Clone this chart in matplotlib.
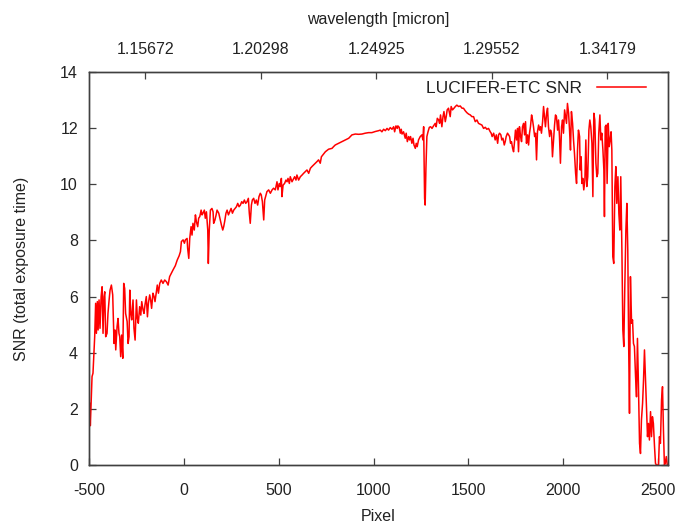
import matplotlib
matplotlib.use("Agg")
import matplotlib.pyplot as plt

plt.rcParams['font.family'] = ['Liberation Sans', 'DejaVu Sans']
plt.rcParams['axes.unicode_minus'] = False

# Detector pixel and signal-to-noise ratio along the spectrum
pixel = [
    -498, -495, -493, -490, -484, -479, -475, -470, -465, -461,
    -456, -452, -447, -442, -436, -431, -426, -421, -417, -412,
    -405, -400, -394, -389, -382, -375, -368, -363, -359, -352,
    -347, -342, -338, -333, -328, -322, -317, -312, -307, -299,
    -294, -289, -285, -280, -275, -268, -263, -257, -250, -245,
    -240, -233, -227, -222, -215, -210, -205, -198, -192, -187,
    -180, -175, -170, -163, -157, -152, -145, -140, -134, -127,
    -119, -110, -101, -92, -83, -75, -66, -57, -45, -35,
    -25,
    -18, -13, -4, 3, 8, 17, 20, 26, 31, 38,
    43, 48, 55, 61, 66, 73, 78, 84, 91, 96,
    101, 108, 113, 119, 126, 129, 134, 140, 148, 154,
    157, 164, 170, 175, 184, 192, 198, 205, 210, 215,
    222, 228, 235, 242, 249, 256, 263, 270, 277, 284,
    291, 298, 305, 312, 319, 326, 333, 340, 345, 350,
    356, 361, 368, 375, 382, 389, 396, 403, 408, 414,
    421, 426, 431, 438, 447, 456, 465, 473,
    482, 491, 496, 503, 508, 514, 517, 523, 531, 538,
    544, 549, 556, 561, 570, 579, 584, 591, 596, 605,
    614, 623, 631, 640, 649, 658, 667, 675, 684, 693,
    702, 710, 719, 725, 732, 746, 763, 781, 789, 798,
    816, 833, 851, 869, 886, 904, 921, 939, 956, 974,
    991, 1009,
    1027, 1035, 1044, 1053, 1062, 1071, 1079, 1088, 1097, 1106,
    1111, 1118, 1125, 1128, 1135, 1141, 1146, 1150, 1158, 1167,
    1172, 1178, 1185, 1190, 1195, 1202, 1208, 1213, 1220, 1225,
    1230, 1237, 1246, 1255, 1260, 1264, 1269, 1272, 1276, 1281,
    1287, 1294, 1301, 1308, 1316, 1325, 1330, 1336, 1343, 1348,
    1353, 1360, 1366, 1371, 1378, 1383, 1388, 1395, 1404, 1409,
    1416, 1424, 1431, 1439, 1448, 1457, 1466, 1474, 1483, 1492,
    1501, 1510, 1518, 1527, 1536, 1545, 1553, 1562,
    1571, 1580, 1589, 1597, 1606, 1615, 1620, 1625, 1633, 1641,
    1647, 1654, 1659, 1664, 1671, 1676, 1682, 1689, 1694, 1699,
    1706, 1712, 1717, 1722, 1727, 1733, 1738, 1743, 1748, 1754,
    1759, 1764, 1769, 1775, 1780, 1785, 1791, 1796, 1801, 1806,
    1812, 1817, 1822, 1827, 1833, 1838, 1843, 1849, 1854, 1859,
    1864, 1870, 1875, 1880, 1885, 1891, 1896, 1901, 1906, 1912,
    1917, 1922, 1928, 1933, 1938, 1943, 1949, 1954, 1959, 1964,
    1970, 1975, 1980, 1985, 1991, 1996, 2001, 2007, 2012, 2017,
    2022, 2028, 2033, 2038, 2043, 2049, 2054, 2059, 2065, 2070,
    2075, 2080, 2086,
    2089, 2094, 2098, 2103, 2108, 2114, 2119, 2124, 2129, 2135,
    2140, 2145, 2151, 2156, 2161, 2166, 2172, 2177, 2182, 2187,
    2193, 2198, 2203, 2209, 2214, 2217, 2221, 2226, 2231, 2237,
    2242, 2247, 2252, 2256, 2261, 2266, 2272, 2277, 2282, 2288,
    2293, 2298, 2303, 2309, 2314, 2319, 2324, 2330, 2335, 2340,
    2345, 2349, 2354, 2360, 2365, 2370, 2375, 2381, 2386, 2391,
    2396, 2402, 2407, 2412, 2418, 2423, 2428, 2433, 2439, 2444,
    2449, 2454, 2460, 2465, 2470, 2475, 2481, 2486, 2491, 2497,
    2502, 2507, 2512, 2518, 2523, 2528, 2533, 2537, 2543, 2548,
]

snr = [
    1.60, 2.20, 1.40, 2.00, 3.15, 3.27, 3.86, 4.57, 5.76, 4.69,
    5.82, 4.81, 5.88, 4.87, 6.00, 6.35, 4.69, 6.00, 6.17, 4.57,
    4.69, 5.40, 5.88, 6.23, 6.41, 6.06, 4.33, 4.81, 4.10, 4.93,
    5.22, 4.69, 4.57, 3.86, 4.63, 3.80, 6.47, 6.29, 5.40, 5.11,
    4.33, 4.57, 6.23, 5.40, 5.17, 5.88, 4.87, 4.45, 5.88, 5.22,
    5.05, 5.64, 5.34, 5.82, 5.52, 5.40, 5.70, 6.00, 5.28, 5.76,
    6.06, 5.88, 5.58, 6.12, 6.00, 5.82, 6.17, 6.41, 6.12, 6.47,
    6.59, 6.47, 6.59, 6.53, 6.41, 6.71, 6.83, 6.95, 7.10, 7.30,
    7.45,
    7.60, 7.96, 8.02, 7.90, 8.02, 8.07, 7.72, 7.36, 8.07, 8.49,
    8.19, 8.61, 8.37, 8.91, 8.67, 8.49, 8.79, 8.85, 9.08, 8.91,
    8.97, 9.08, 8.79, 9.02, 8.37, 7.18, 8.37, 9.08, 9.14, 9.02,
    8.61, 8.73, 8.91, 9.08, 8.97, 8.73, 8.55, 8.37, 8.49, 8.67,
    8.97, 9.08, 8.91, 9.02, 9.14, 8.97, 9.08, 9.14, 9.20, 9.32,
    9.20, 9.26, 9.38, 9.32, 9.44, 9.32, 9.38, 9.50, 8.97, 8.61,
    9.26, 9.44, 9.50, 9.32, 9.44, 9.26, 9.56, 9.68, 9.62, 9.38,
    8.73, 9.44, 9.56, 9.74, 9.80, 9.68, 9.80, 9.86,
    9.80, 10.09, 9.80, 10.03, 9.92, 10.21, 9.56, 9.97, 10.03, 10.15,
    10.09, 10.21, 10.03, 10.27, 10.09, 10.21, 10.27, 10.15, 10.33, 10.15,
    10.27, 10.33, 10.39, 10.45, 10.51, 10.39, 10.57, 10.63, 10.69, 10.75,
    10.81, 10.87, 10.75, 10.98, 11.04, 11.16, 11.25, 11.28, 11.34, 11.40,
    11.46, 11.52, 11.58, 11.64, 11.76, 11.79, 11.78, 11.79, 11.82, 11.84,
    11.84, 11.88,
    11.91, 11.93, 11.87, 11.96, 11.91, 11.99, 11.93, 12.02, 11.96, 12.05,
    11.87, 12.08, 11.99, 12.08, 12.03, 11.82, 11.96, 11.79, 11.87, 11.64,
    11.82, 11.52, 11.70, 11.58, 11.70, 11.46, 11.64, 11.40, 11.28, 11.46,
    11.34, 11.58, 11.70, 11.76, 11.58, 12.05, 9.50, 9.26, 10.57, 11.70,
    11.87, 12.03, 12.05, 11.99, 12.08, 12.17, 12.05, 12.35, 12.29, 12.17,
    12.47, 12.05, 12.41, 12.59, 12.23, 12.41, 12.65, 12.71, 12.41, 12.77,
    12.65, 12.71, 12.77, 12.82, 12.77, 12.79, 12.71, 12.71, 12.62, 12.55,
    12.50, 12.47, 12.41, 12.41, 12.23, 12.29, 12.17, 12.14,
    12.11, 11.99, 12.03, 11.96, 11.99, 11.87, 11.82, 11.70, 11.82, 11.58,
    11.76, 11.46, 11.76, 11.82, 11.76, 11.58, 11.64, 11.40, 11.52, 11.70,
    11.82, 11.76, 11.70, 11.46, 11.52, 11.28, 11.16, 11.52, 11.93, 11.58,
    11.99, 11.16, 12.05, 11.70, 11.52, 12.05, 12.17, 11.76, 12.23, 11.46,
    11.76, 11.40, 11.82, 12.05, 12.47, 12.29, 12.05, 11.70, 11.82, 10.87,
    11.87, 12.11, 11.93, 12.05, 11.82, 12.23, 12.77, 12.41, 12.05, 12.53,
    12.71, 12.05, 11.70, 11.93, 11.82, 10.98, 11.58, 12.11, 12.47, 12.41,
    11.93, 12.29, 11.70, 10.75, 12.05, 12.29, 11.82, 12.65, 12.41, 12.17,
    12.88, 12.53, 11.93, 11.22, 12.59, 12.17, 11.58, 11.10, 10.39, 10.03,
    11.22, 11.93, 11.70,
    10.51, 10.98, 10.03, 10.21, 9.80, 10.15, 11.58, 9.92, 10.27, 11.93,
    12.29, 12.05, 11.46, 9.56, 12.53, 12.29, 10.75, 10.27, 10.39, 11.82,
    12.47, 11.58, 11.82, 11.22, 10.51, 8.85, 12.05, 12.11, 10.03, 12.17,
    11.34, 11.58, 11.87, 11.22, 7.42, 7.18, 9.92, 10.63, 9.32, 10.27,
    8.96, 8.37, 10.27, 7.66, 4.81, 4.22, 6.24, 8.37, 9.32, 7.66,
    4.10, 1.84, 6.71, 5.05, 5.17, 4.33, 4.22, 3.15, 2.43, 4.51,
    2.91, 0.77, 0.41, 1.60, 2.20, 3.03, 4.10, 3.15, 2.08, 1.01,
    1.48, 0.89, 1.90, 1.01, 1.72, 1.48, 0.65, 0.06, 0.00, 0.00,
    0.00, 1.01, 0.77, 2.32, 2.79, 1.25, 0.00, 0.06, 0.30, 0.00,
]

series_label = "LUCIFER-ETC SNR"
pixel_ticks = [-500, 0, 500, 1000, 1500, 2000, 2500]
snr_ticks = [0, 2, 4, 6, 8, 10, 12, 14]
wave_ticks = [1.15672, 1.20298, 1.24925, 1.29552, 1.34179]
wave_labels = ["1.15672", "1.20298", "1.24925", "1.29552", "1.34179"]
wave_range = (1.13415, 1.36608)

fs = 11.5
ink = "#222222"
frame = "#404040"

fig = plt.figure(figsize=(6.78, 5.28), dpi=100)
ax = fig.add_axes([89 / 678, 63 / 528, 579 / 678, 393 / 528])

ax.plot(pixel, snr, color="#ff0000", lw=1.1, label=series_label)

ax.set_xlim(-500, 2552)
ax.set_ylim(0, 14)
ax.set_xticks(pixel_ticks)
ax.set_yticks(snr_ticks)
ax.tick_params(axis="both", direction="in", length=5, width=0.9, color=frame,
               labelsize=fs, labelcolor=ink)
ax.tick_params(axis="x", top=False, bottom=True, pad=12.8)
ax.tick_params(axis="y", right=True, left=True, pad=8)
for s in ax.spines.values():
    s.set_color(frame)
    s.set_linewidth(1.0)

ax.set_xlabel("Pixel", fontsize=fs, color=ink, labelpad=8)
ax.set_ylabel("SNR (total exposure time)", fontsize=fs, color=ink, labelpad=22)

top = ax.twiny()
top.set_xlim(*wave_range)
top.set_xticks(wave_ticks)
top.set_xticklabels(wave_labels)
top.tick_params(axis="x", direction="in", length=5, width=0.9, color=frame,
                labelsize=fs, labelcolor=ink, pad=10.6)
top.set_xlabel("wavelength [micron]", fontsize=fs, color=ink, labelpad=13)
for s in top.spines.values():
    s.set_color(frame)
    s.set_linewidth(1.0)

leg = ax.legend(loc="upper right", bbox_to_anchor=(0.962, 0.977),
                frameon=False, markerfirst=False, handlelength=2.85,
                handletextpad=0.85, borderpad=0, borderaxespad=0,
                fontsize=12.5)
for t in leg.get_texts():
    t.set_color(ink)

fig.savefig("out.png", dpi=100)
